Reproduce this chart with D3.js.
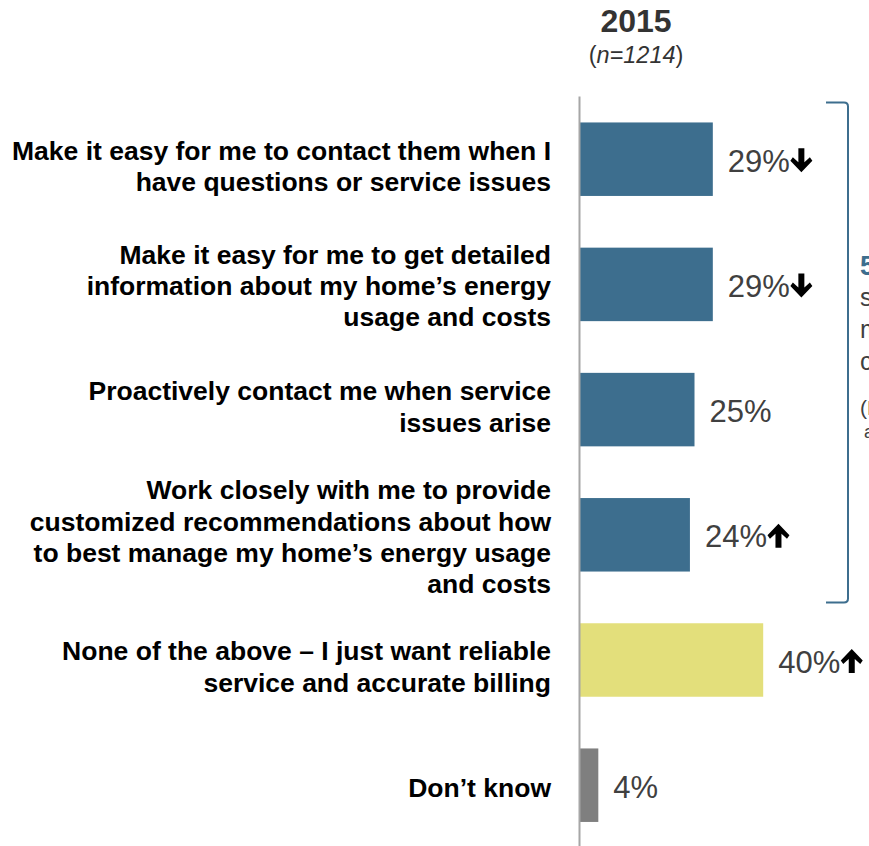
<!DOCTYPE html>
<html>
<head>
<meta charset="utf-8">
<script src="https://cdn.jsdelivr.net/npm/d3@7"></script>
<style>
  html, body { margin: 0; padding: 0; background: #fff; }
  svg { display: block; }
</style>
</head>
<body>
<svg id="chart" width="869" height="846"></svg>
<script>
// Survey answers (2015, n=1214)
const categories = [
  ["Make it easy for me to contact them when I", "have questions or service issues"],
  ["Make it easy for me to get detailed", "information about my home\u2019s energy", "usage and costs"],
  ["Proactively contact me when service", "issues arise"],
  ["Work closely with me to provide", "customized recommendations about how", "to best manage my home\u2019s energy usage", "and costs"],
  ["None of the above \u2013 I just want reliable", "service and accurate billing"],
  ["Don\u2019t know"]
];
const values = [29, 29, 25, 24, 40, 4];
// change vs. prior wave: -1 down, +1 up, 0 none
const trends = [-1, -1, 0, 1, 1, 0];
const groups = ["engage", "engage", "engage", "engage", "none", "dk"];
const colors = { engage: "#3d6e8e", none: "#e3df7b", dk: "#7f7f7f" };

const calloutLines = ["56%", "say they want", "more from their", "customer service", "(Net of", "all four options)"];

const svg = d3.select("#chart");
const font = "'Liberation Sans', Arial, Helvetica, sans-serif";

const x = d3.scaleLinear().domain([0, 100]).range([580, 1038]);
const y = d3.scaleBand()
  .domain(d3.range(values.length))
  .range([96.6, 847.8])
  .paddingInner(0.413)
  .paddingOuter(0.2065);

// header
svg.append("text")
  .attr("x", 636).attr("y", 32)
  .attr("text-anchor", "middle")
  .attr("font-family", font).attr("font-weight", "bold")
  .attr("font-size", 32).attr("fill", "#333")
  .text("2015");
const n = svg.append("text")
  .attr("x", 636).attr("y", 63)
  .attr("text-anchor", "middle")
  .attr("font-family", font).attr("font-size", 23.5).attr("fill", "#333");
n.append("tspan").text("(");
n.append("tspan").attr("font-style", "italic").text("n=1214");
n.append("tspan").text(")");

// bars
svg.selectAll("rect.bar")
  .data(values)
  .join("rect")
  .attr("class", "bar")
  .attr("x", x(0))
  .attr("y", (d, i) => y(i))
  .attr("width", d => x(d) - x(0))
  .attr("height", y.bandwidth())
  .attr("fill", (d, i) => colors[groups[i]]);

// baseline axis
svg.append("line")
  .attr("x1", 579.5).attr("x2", 579.5)
  .attr("y1", y.range()[0]).attr("y2", 846)
  .attr("stroke", "#a6a6a6").attr("stroke-width", 2);

// category labels, right-aligned; small per-row baseline nudges
const lineH = 31.4;
const labelNudge = [16, 10.5, 6.5, 11.5, 16, 12];
categories.forEach((lines, i) => {
  const cy = y(i) + y.bandwidth() / 2;
  const t = svg.append("text")
    .attr("text-anchor", "end")
    .attr("font-family", font).attr("font-weight", "bold")
    .attr("font-size", 26.5).attr("fill", "#000");
  lines.forEach((ln, k) => {
    t.append("tspan")
      .attr("x", 551)
      .attr("y", cy + (k - (lines.length - 1) / 2) * lineH + labelNudge[i])
      .text(ln);
  });
});

// value labels with trend arrows
values.forEach((v, i) => {
  const cy = y(i) + y.bandwidth() / 2;
  const lx = x(v) + 15;
  const t = svg.append("text")
    .attr("x", lx).attr("y", cy + 12.5)
    .attr("font-family", font).attr("font-size", 31)
    .attr("fill", "#404040")
    .text(v + "%");
  const w = t.node().getComputedTextLength();
  if (trends[i] !== 0) {
    const ax = lx + w + 11.5;
    const top = cy - 11, bot = cy + 13;
    const s = 3, hw = 11, hh = 13;
    const p = d3.path();
    if (trends[i] < 0) {
      p.moveTo(ax - s, top); p.lineTo(ax + s, top);
      p.lineTo(ax + s, bot - hh + 3); p.lineTo(ax + hw - 2.5, bot - hh - 2);
      p.lineTo(ax + hw, bot - hh + 1.5); p.lineTo(ax, bot);
      p.lineTo(ax - hw, bot - hh + 1.5); p.lineTo(ax - hw + 2.5, bot - hh - 2);
      p.lineTo(ax - s, bot - hh + 3); p.closePath();
    } else {
      p.moveTo(ax - s, bot); p.lineTo(ax + s, bot);
      p.lineTo(ax + s, top + hh - 3); p.lineTo(ax + hw - 2.5, top + hh + 2);
      p.lineTo(ax + hw, top + hh - 1.5); p.lineTo(ax, top);
      p.lineTo(ax - hw, top + hh - 1.5); p.lineTo(ax - hw + 2.5, top + hh + 2);
      p.lineTo(ax - s, top + hh - 3); p.closePath();
    }
    svg.append("path").attr("d", p.toString()).attr("fill", "#000");
  }
});

// bracket around the four engagement options
const bTop = y(0) - 20, bBot = y(3) + y.bandwidth() + 31;
svg.append("path")
  .attr("d", `M826,${bTop} L844,${bTop} Q848,${bTop} 848,${bTop + 4} L848,${bBot - 4} Q848,${bBot} 844,${bBot} L826,${bBot}`)
  .attr("fill", "none").attr("stroke", "#3d6e8e").attr("stroke-width", 2);

// callout text beside the bracket
const cx = 860;
svg.append("text").attr("x", cx).attr("y", 275)
  .attr("font-family", font).attr("font-weight", "bold").attr("font-size", 27)
  .attr("fill", "#3d6e8e").text(calloutLines[0]);
[calloutLines[1], calloutLines[2], calloutLines[3]].forEach((ln, k) => {
  svg.append("text").attr("x", cx).attr("y", 306 + k * 32)
    .attr("font-family", font).attr("font-size", 25)
    .attr("fill", "#404040").text(ln);
});
svg.append("text").attr("x", cx).attr("y", 415)
  .attr("font-family", font).attr("font-size", 21)
  .attr("fill", "#404040").text(calloutLines[4]);
svg.append("text").attr("x", cx + 4).attr("y", 438)
  .attr("font-family", font).attr("font-size", 18)
  .attr("fill", "#404040").text(calloutLines[5]);
</script>
</body>
</html>
